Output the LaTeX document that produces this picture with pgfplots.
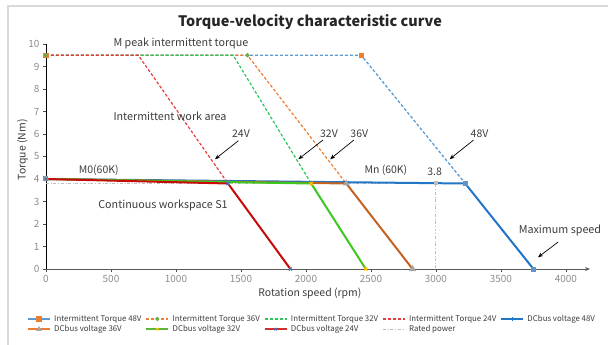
\documentclass[border=0pt]{standalone}
\usepackage{fontspec}
\setmainfont{Noto Sans CJK SC}
\usepackage{pgfplots}
\pgfplotsset{compat=1.18}
\usetikzlibrary{calc,arrows.meta}
\definecolor{cblue}{RGB}{33,118,198}
\definecolor{cblueL}{RGB}{91,155,213}
\definecolor{corange}{RGB}{197,98,30}
\definecolor{corangeL}{RGB}{237,125,49}
\definecolor{cgreen}{RGB}{60,200,30}
\definecolor{cgreenD}{RGB}{40,200,90}
\definecolor{cgreenM}{RGB}{112,173,71}
\definecolor{cred}{RGB}{200,10,10}
\definecolor{credL}{RGB}{230,60,60}
\definecolor{cgrey}{RGB}{190,190,190}
\definecolor{cgreyM}{RGB}{165,165,165}
\definecolor{cyellow}{RGB}{255,192,0}
\definecolor{cbluemark}{RGB}{68,114,196}
\definecolor{tickgrey}{RGB}{140,140,140}
\definecolor{txt}{RGB}{60,60,60}
\definecolor{frame}{RGB}{217,217,217}
\begin{document}
\begin{tikzpicture}
\begin{axis}[
  scale only axis, width=544bp, height=225bp,
  xmin=0, xmax=4185, ymin=0, ymax=10,
  axis x line=bottom, axis y line=left,
  x axis line style={-{Stealth[length=5bp,width=4bp]}, draw=black!65, line width=0.8bp},
  y axis line style={-, draw=black, line width=0.8bp},
  xtick={0,500,...,4000}, ytick={0,1,...,10},
  major tick length=3bp, tick align=outside,
  tick style={draw=black!70, line width=0.6bp},
  tick label style={font=\fontsize{10}{11}\selectfont, text=tickgrey},
  /pgf/number format/assume math mode=true, /pgf/number format/1000 sep={},
  clip=false,
  legend columns=5,
  legend cell align=left,
  legend image code/.code={\draw[mark repeat=2,mark phase=2,#1] plot coordinates {(0bp,0bp) (11bp,0bp) (22bp,0bp)};},
  legend style={draw=none, fill=none, at={(axis description cs:-0.035,-0.195)}, anchor=north west,
    font=\fontsize{7.9}{9}\selectfont\color{txt}, inner sep=0pt, row sep=-1.5bp,
    /tikz/every even column/.append style={column sep=2bp},
    /tikz/every odd column/.append style={column sep=1.5bp}},
]
% Intermittent series
\addplot[cblueL, densely dashed, line width=1.3bp, mark=square*, mark size=2bp, mark options={solid, fill=corangeL, draw=corangeL}, mark indices={1,2}, forget plot] coordinates {(0,9.5) (2425,9.5) (3225,3.8)};
\addplot[corangeL, densely dashed, line width=1.2bp, mark=*, mark size=1.6bp, mark options={solid, fill=cgreenM, draw=cgreenM}, mark indices={1,2}, forget plot] coordinates {(0,9.5) (1550,9.5) (2310,3.8)};
\addplot[cgreenD, densely dashed, line width=1.2bp, forget plot] coordinates {(0,9.5) (1440,9.5) (2040,3.8)};
\addplot[credL, densely dashed, line width=1.2bp, forget plot] coordinates {(0,9.5) (710,9.5) (1400,3.8)};
% Rated power
\addplot[cgrey, dash dot, line width=1bp, mark=square*, mark size=1.5bp, mark options={solid, fill=cgrey, draw=cgrey}, mark indices={2}, forget plot] coordinates {(0,3.8) (3000,3.8) (3000,0)};
% DC bus
\addplot[cblue, line width=2bp, mark=square*, mark size=1.5bp, mark options={fill=cblueL!80!gray, draw=cblueL!80!gray}, forget plot] coordinates {(0,4) (3225,3.8) (3750,0)};
\addplot[corange, line width=2bp, mark=triangle*, mark size=2bp, mark options={fill=cgreyM, draw=cgreyM}, forget plot] coordinates {(0,4) (2310,3.8) (2820,0)};
\addplot[cgreen, line width=2bp, mark=x, mark size=2.2bp, mark options={draw=cyellow, line width=1.2bp}, forget plot] coordinates {(0,4) (2040,3.8) (2460,0)};
\addplot[cred, line width=2bp, mark=x, mark size=2.2bp, mark options={draw=cbluemark, line width=1.2bp}, forget plot] coordinates {(0,4) (1400,3.8) (1880,0)};
% Legend
\addlegendimage{draw=cblueL, line width=1.6bp, mark=square*, mark size=1.8bp, mark options={fill=corangeL, draw=corangeL}}
\addlegendentry{Intermittent Torque 48V}
\addlegendimage{draw=corangeL, densely dashed, line width=1.4bp, mark=*, mark size=1.3bp, mark options={solid, fill=cgreenM, draw=cgreenM}}
\addlegendentry{Intermittent Torque 36V}
\addlegendimage{draw=cgreenD, densely dashed, line width=1.4bp}
\addlegendentry{Intermittent Torque 32V}
\addlegendimage{draw=credL, densely dashed, line width=1.4bp}
\addlegendentry{Intermittent Torque 24V}
\addlegendimage{draw=cblue, line width=1.6bp, mark=+, mark size=2bp, mark options={draw=cblue, line width=0.8bp}}
\addlegendentry{DCbus voltage 48V}
\addlegendimage{draw=corangeL, line width=1.6bp, mark=triangle*, mark size=1.6bp, mark options={fill=cgreyM, draw=cgreyM}}
\addlegendentry{DCbus voltage 36V}
\addlegendimage{draw=cgreenM!60!cgreen, line width=1.6bp, mark=x, mark size=1.8bp, mark options={draw=cyellow, line width=0.8bp}}
\addlegendentry{DCbus voltage 32V}
\addlegendimage{draw=cred!85!white, line width=1.6bp, mark=x, mark size=1.8bp, mark options={draw=cbluemark, line width=0.8bp}}
\addlegendentry{DCbus voltage 24V}
\addlegendimage{draw=cgrey, dash dot, line width=1.2bp}
\addlegendentry{Rated power}
% Texts
\node[font=\fontsize{14.5}{16}\selectfont\bfseries, text=black!85] at (axis cs:2031,10.98) {Torque-velocity characteristic curve};
\node[font=\fontsize{10.5}{11}\selectfont, text=txt] at (axis cs:2030,-1.07) {Rotation speed (rpm)};
\node[font=\fontsize{10.5}{11}\selectfont, text=txt, rotate=90] at (axis cs:-180,5.3) {Torque (Nm)};
\node[font=\fontsize{10.8}{11}\selectfont, text=txt] at (axis cs:1038,10.04) {M peak intermittent torque};
\node[font=\fontsize{10.8}{11}\selectfont, text=txt] at (axis cs:954,6.8) {Intermittent work area};
\node[font=\fontsize{10.8}{11}\selectfont, text=txt] at (axis cs:900,2.84) {Continuous workspace S1};
\node[font=\fontsize{10.5}{11}\selectfont, text=txt] at (axis cs:406,4.4) {M0(60K)};
\node[font=\fontsize{10.5}{11}\selectfont, text=txt] at (axis cs:2615,4.4) {Mn (60K)};
\node[font=\fontsize{10.5}{11}\selectfont, text=txt] at (axis cs:2990,4.3) {3.8};
\node[font=\fontsize{10.5}{11}\selectfont, text=txt] at (axis cs:1500,6.0) {24V};
\node[font=\fontsize{10.5}{11}\selectfont, text=txt] at (axis cs:2177,6.0) {32V};
\node[font=\fontsize{10.5}{11}\selectfont, text=txt] at (axis cs:2410,6.0) {36V};
\node[font=\fontsize{10.5}{11}\selectfont, text=txt] at (axis cs:3335,6.0) {48V};
\node[font=\fontsize{10.8}{11}\selectfont, text=txt] at (axis cs:3954,1.73) {Maximum speed};
\draw[-{Stealth[length=5bp,width=4bp]}, line width=0.7bp, black] (axis cs:1480,5.70) -- (axis cs:1300,4.88);
\draw[-{Stealth[length=5bp,width=4bp]}, line width=0.7bp, black] (axis cs:2130,5.73) -- (axis cs:1942,4.88);
\draw[-{Stealth[length=5bp,width=4bp]}, line width=0.7bp, black] (axis cs:2368,5.73) -- (axis cs:2186,4.88);
\draw[-{Stealth[length=5bp,width=4bp]}, line width=0.7bp, black] (axis cs:3289,5.73) -- (axis cs:3105,4.88);
\draw[-{Stealth[length=5bp,width=4bp]}, line width=0.7bp, black] (axis cs:3940,1.2) -- (axis cs:3785,0.52);
\coordinate (O) at (axis cs:0,0);
\end{axis}
\draw[frame, line width=1.5bp] ($(O)+(-38bp,-80bp)$) -- ($(O)+(-38bp,263bp)$) -- ($(O)+(570bp,263bp)$);
\pgfresetboundingbox
\path[use as bounding box] ($(O)+(-46bp,-76bp)$) rectangle ($(O)+(562bp,269bp)$);
\end{tikzpicture}
\end{document}
